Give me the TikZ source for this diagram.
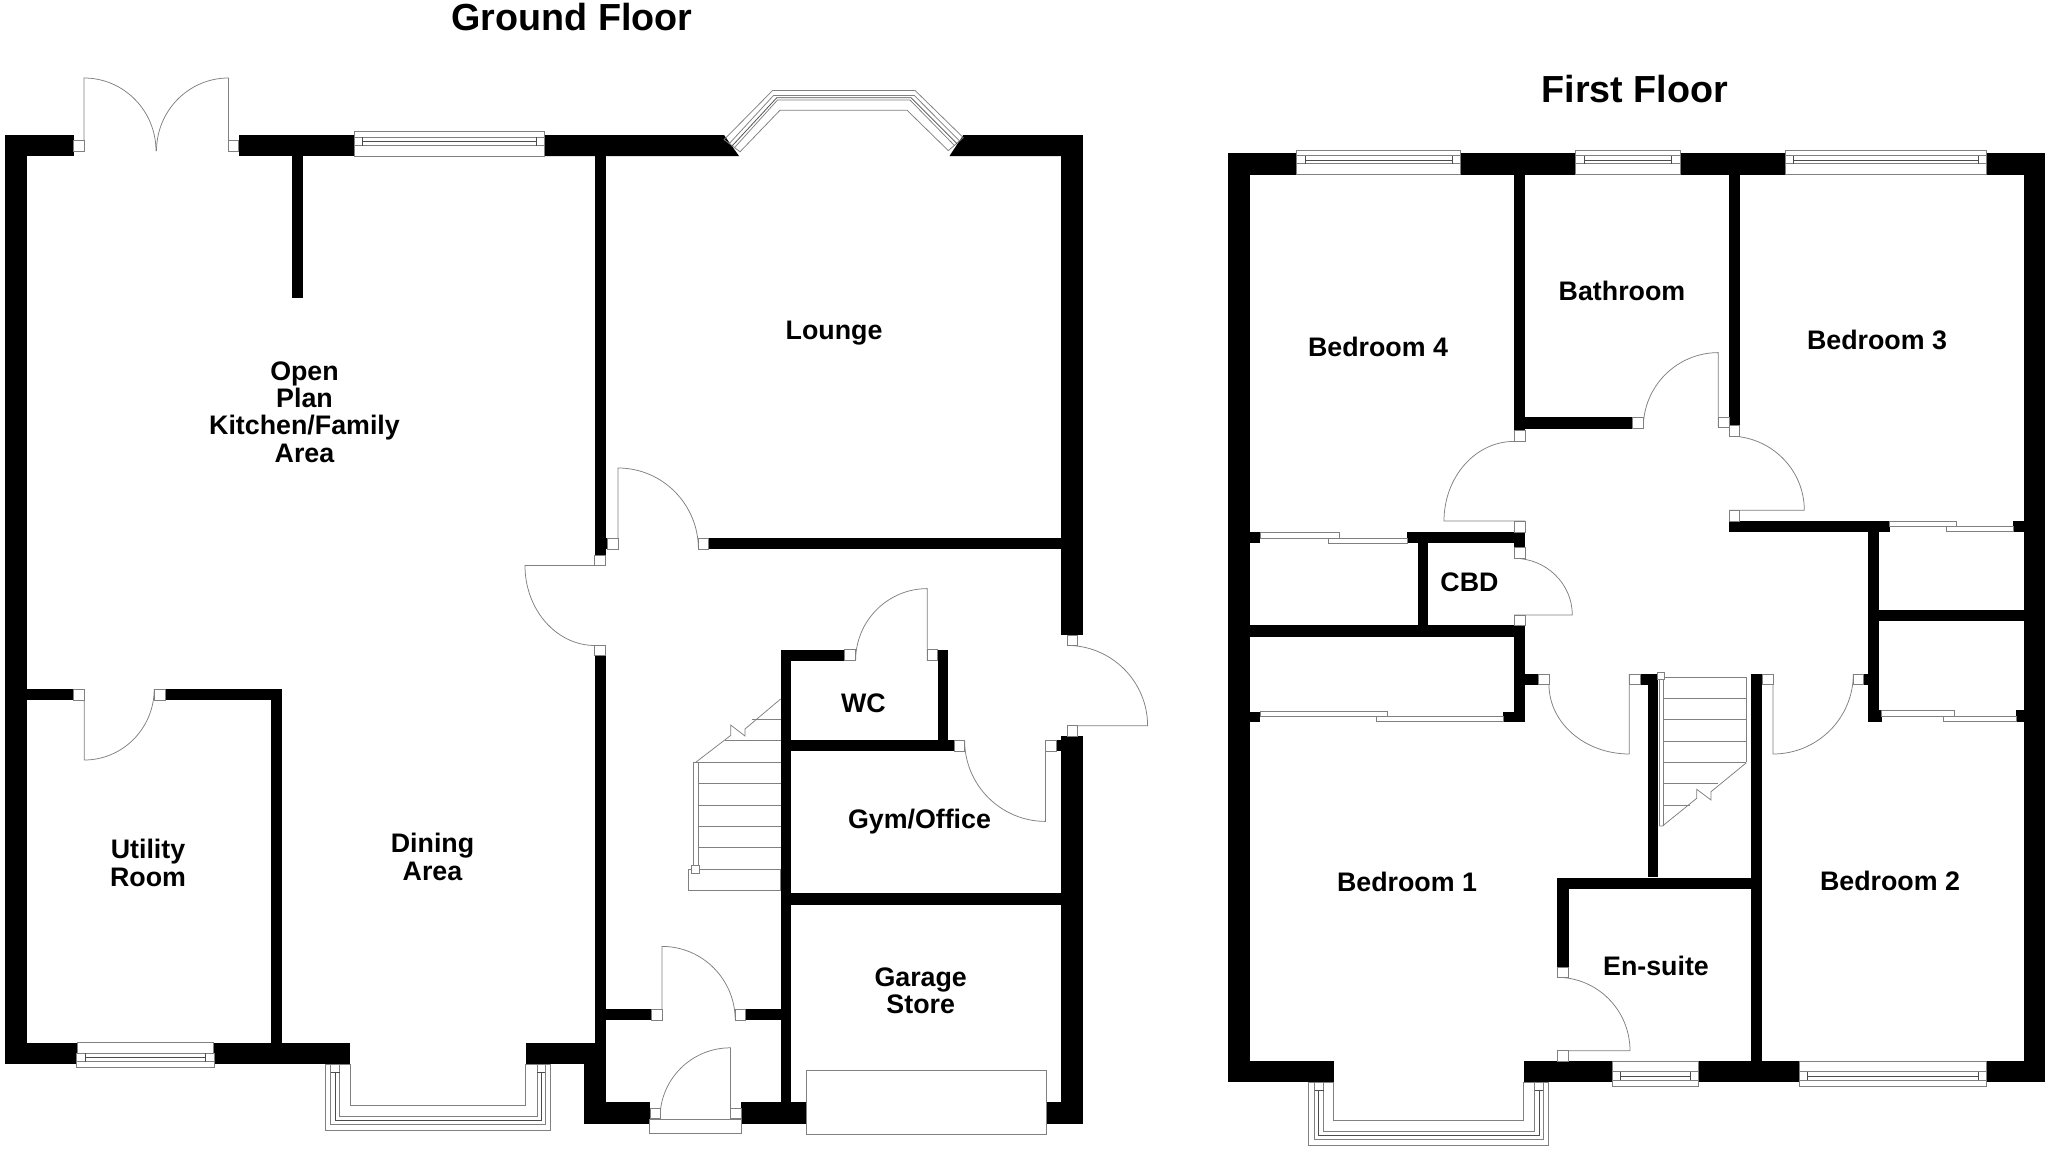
\documentclass[tikz,border=0pt]{standalone}
\usepackage{fontspec}
\setmainfont{Liberation Sans}
\begin{document}
\begin{tikzpicture}[x=1pt,y=-1pt,line join=miter]
\tikzstyle{muro}=[fill=black]
\tikzstyle{linea}=[draw=black!50,line width=0.75pt]
\tikzstyle{vidrio}=[draw=black!70,line width=0.75pt]
\tikzstyle{jamba}=[draw=black!50,line width=0.75pt,fill=white]
\tikzstyle{cuarto}=[align=center,inner sep=0pt,font=\bfseries\fontsize{26.8}{27.3}\selectfont]
\tikzstyle{titulo}=[inner sep=0pt,font=\bfseries\fontsize{37.7}{40}\selectfont]
\useasboundingbox (0,0) rectangle (2048,1151);
\fill[white] (0,0) rectangle (2048,1151);
%% Ground floor walls
\foreach \xa/\ya/\xb/\yb in {5/135/26.5/1064,5/135/73.5/156,238.5/135/354/156,292/156/302.5/298,
  1061.4/135/1082.7/634.7,594.8/156/605.5/555,605.5/538.4/607.5/549,708.7/538.4/1061.4/549,
  594.8/655.6/605.5/1043,26.5/689.3/73.5/700.3,165/689.3/281.5/700.3,271/689.3/281.5/1043,
  5/1042.7/77/1064,213.5/1042.7/350/1064,525.5/1042.7/605.5/1064,584/1064/605.5/1124,
  584/1102.4/650/1124,741/1102.4/806.3/1124,1046.4/1102.4/1082.7/1124,1061.4/736/1082.7/1124,
  780.6/649.8/791.3/1102.4,780.6/649.8/844.7/660.7,937.6/649.8/948.3/740.3,780.6/740.3/954.2/751.2,
  1055.9/740.3/1061.4/751.2,791/893.2/1061.4/904.7,605.5/1009/651.7/1020,745.4/1009/780.6/1020}
  \fill[muro] (\xa,\ya) rectangle (\xb,\yb);
\fill[muro] (544,135)--(724,135)--(739,156)--(544,156)--cycle;
\fill[muro] (963.3,135)--(1082.7,135)--(1082.7,156)--(949.5,156)--cycle;
%% Ground floor doors
\draw[linea] (84,151)--(84,78) arc[start angle=90,end angle=0,x radius=72pt,y radius=73pt];
\draw[linea] (228.5,151)--(228.5,78) arc[start angle=90,end angle=180,x radius=72pt,y radius=73pt];
\draw[linea] (618,549)--(618,468) arc[start angle=90,end angle=0,x radius=80.4pt,y radius=81pt];
\draw[linea] (605.5,565.5)--(525,565.5) arc[start angle=180,end angle=270,x radius=70pt,y radius=80pt];
\draw[linea] (84.2,700)--(84.2,760) arc[start angle=270,end angle=360,x radius=70pt,y radius=71pt];
\draw[linea] (927.3,660.7)--(927.3,588.6) arc[start angle=90,end angle=180,x radius=71.7pt,y radius=72pt];
\draw[linea] (1045.6,751)--(1045.6,821.4) arc[start angle=270,end angle=180,x radius=81pt,y radius=81pt];
\draw[linea] (1067,725.8)--(1147.6,725.8) arc[start angle=0,end angle=90,x radius=80.6pt,y radius=80.4pt];
\draw[linea] (662,1020)--(662,946.4) arc[start angle=90,end angle=0,x radius=73.2pt,y radius=73.6pt];
\draw[linea] (730.4,1118)--(730.4,1047.8) arc[start angle=90,end angle=180,x radius=70.4pt,y radius=70.2pt];
\foreach \xa/\ya/\xb/\yb in {73.5/140/84/151,228/140/238.5/151,594.8/555/605.5/565.5,594.8/645.4/605.5/655.6,
  607.5/538.4/618/549,698.4/538.4/708.7/549,73.5/689.3/84.2/700.3,154/689.3/165/700.3,
  844.7/649.8/855.4/660.7,927.3/649.8/937.6/660.7,954.2/740.3/964.5/751.2,1045.6/740.3/1055.9/751.2,
  1067/635.2/1077.2/645.4,1067/725.8/1077.2/736,651.7/1009/662/1020,735.2/1009/745.4/1020,
  650/1108/660/1118,730.8/1108/741/1118,649.4/1119/741.5/1133,806.3/1070.8/1046.4/1134.6}
  \draw[jamba] (\xa,\ya) rectangle (\xb,\yb);
%% Ground floor stairs
\foreach \ya in {762.4,783.7,805,826.4,847.8,869.2}
  \draw[linea] (698,\ya)--(780.6,\ya);
\draw[linea] (688.5,869.2) rectangle (780.6,890.5);
\draw[linea] (692.9,762.4)--(692.9,865.8) (698,762.4)--(698,865.8) (692.9,762.4)--(698,762.4);
\draw[jamba] (691.3,865.8) rectangle (699.2,872.9);
\draw[linea] (695.6,762.4)--(730.8,735.3)--(730.8,725.1)--(745,736)--(745,729)--(780.6,699);
\draw[linea] (725.3,740.3)--(780.6,740.3) (751.8,719.7)--(780.6,719.7);
%% Ground floor windows
\draw[jamba] (354,131.7) rectangle (544,156);
\draw[linea] (354,137)--(544,137) (354,145.7)--(544,145.7);
\draw[vidrio] (362.6,137)--(362.6,145.7) (536,137)--(536,145.7) (362.6,141.7)--(536,141.7);
\draw[jamba] (77,1042.7) rectangle (213.5,1053.3);
\draw[jamba] (76.3,1053.3) rectangle (214.3,1067.3);
\draw[linea] (76.3,1061.7)--(214.3,1061.7);
\draw[vidrio] (85.4,1053.3)--(85.4,1061.7) (205.6,1053.3)--(205.6,1061.7) (85.4,1057.3)--(205.6,1057.3);
%% Ground floor bays
\draw[linea] (325.4,1064)--(325.4,1130.7)--(550,1130.7)--(550,1064)--(525.5,1064)--(525.5,1105.7)--(350,1105.7)--(350,1064)--cycle;
\draw[linea] (330.6,1064)--(330.6,1124.7)--(545.3,1124.7)--(545.3,1064);
\draw[linea] (339.7,1064)--(339.7,1116.7)--(537,1116.7)--(537,1064);
\draw[vidrio] (335.3,1072.7)--(335.3,1120.7)--(541.7,1120.7)--(541.7,1072.7) (330.6,1072.7)--(339.7,1072.7) (537,1072.7)--(545.3,1072.7);
\draw[linea] (724.1,139.6)--(772.7,90.4)--(915,90.4)--(963.3,137.6)--(948.3,150.6)--(907,110.2)--(780,110.2)--(740,151.8)--cycle;
\draw[linea] (729.2,143.7)--(773.5,95.5)--(914.3,95.5)--(959.4,140.8);
\draw[vidrio] (731.6,146.5)--(776.7,97.8)--(911.1,97.8)--(957,143.7);
\draw[linea] (734,148.2)--(777.5,100)--(910,100)--(954.6,145.7);
%% First floor walls
\foreach \xa/\ya/\xb/\yb in {1228.3/153.2/1250/1082.3,1228.3/153.2/1296.7/174.8,1460.7/153.2/1575.7/174.8,
  1680/153.2/1785/174.8,1986.3/153.2/2045.3/174.8,2023.7/153.2/2045.3/1082.3,1514/174.8/1525/430.2,
  1525/417.3/1633/428.5,1729/174.8/1739.7/425.2,1729/521/1889.7/531.7,2013/521/2023.7/531.7,
  1868.3/531.7/1879/721.6,1879/610/2023.7/621.3,1868.3/710.4/1881.7/721.6,2016/710.4/2023.7/721.6,
  1863.7/674/1868.3/684.7,1751.3/674/1762.3/1061,1647.7/674/1658.3/877.3,1640/674/1647.7/684.7,
  1525/674/1538.3/684.7,1514/625.4/1525/721.6,1503.3/711.7/1525/721.6,1250/711.7/1260/721.6,
  1250/625.4/1525/636.6,1418/543.3/1428.3/625.4,1407.3/532.2/1525/543.3,1514/532.2/1525/547.5,
  1250/532.2/1260/543.3,1557/878/1751.3/888.7,1557/878/1568.5/967.3,1228/1061/1333.5/1082.3,
  1523.6/1061/1612.3/1082.3,1698.4/1061/1799.2/1082.3,1986/1061/2045.3/1082.3}
  \fill[muro] (\xa,\ya) rectangle (\xb,\yb);
%% First floor doors
\draw[linea] (1718.3,427.7)--(1718.3,352.6) arc[start angle=90,end angle=180,x radius=75pt,y radius=75pt];
\draw[linea] (1729,510.2)--(1804.3,510.2) arc[start angle=0,end angle=90,x radius=75.3pt,y radius=74.2pt];
\draw[linea] (1773,674)--(1773,754) arc[start angle=270,end angle=360,x radius=80.3pt,y radius=80pt];
\draw[linea] (1629.3,674)--(1629.3,754) arc[start angle=270,end angle=180,x radius=80.3pt,y radius=69.3pt];
\draw[linea] (1525,521)--(1444,521) arc[start angle=180,end angle=90,x radius=70pt,y radius=79.6pt];
\draw[linea] (1514,615)--(1572.3,615) arc[start angle=0,end angle=90,x radius=58.3pt,y radius=56.7pt];
\draw[linea] (1557,1050.7)--(1630,1050.7) arc[start angle=0,end angle=90,x radius=73pt,y radius=73.4pt];
\foreach \xa/\ya/\xb/\yb in {1514/430.2/1525/441.4,1632.7/417.3/1643.3/428.5,1718.3/417.3/1729/427.7,
  1729/425.2/1739.7/436,1729/510.2/1739.7/521,1853.3/674/1863.7/684.7,1762.3/674/1773/684.7,
  1629.3/674/1640/684.7,1538.3/674/1549/684.7,1514/521/1525/532.2,1514/547.5/1525/558.3,1514/615/1525/625.4,
  1557/967.3/1568.5/977.3,1557/1050.7/1568.5/1061,
  1889.7/521/1956.7/526.8,1946/526.8/2013/531.7,1881.7/710.4/1954.3/716.2,1943.3/716.2/2016/721.6,
  1260/711.7/1387.3/716.7,1376.7/716.7/1503.3/721.6,1260/532.2/1339.3/538,1328.3/538/1407.3/543.3}
  \draw[jamba] (\xa,\ya) rectangle (\xb,\yb);
%% First floor stairs
\foreach \ya in {677.3,698.3,719.7,741,762.3}
  \draw[linea] (1663.5,\ya)--(1746.4,\ya);
\draw[linea] (1663.5,783.7)--(1718,783.7) (1663.5,805)--(1690,805);
\draw[linea] (1746.4,677.3)--(1746.4,762.3) (1663.5,677.3)--(1663.5,826) (1659.3,677.3)--(1659.3,826);
\draw[linea] (1746.4,762.7)--(1711,791.7)--(1711,800)--(1696.7,789.3)--(1696.7,798.3)--(1662.5,826)--(1659.3,826);
\draw[jamba] (1657.7,672.7) rectangle (1664.6,679.3);
%% First floor windows
\foreach \xa/\xb/\xc/\xd in {1296.7/1305/1452.3/1460.7,1575.7/1584/1671.7/1680,1785/1793.3/1978.3/1986.3} {
  \draw[jamba] (\xa,150) rectangle (\xd,174.8);
  \draw[linea] (\xa,155.7)--(\xd,155.7) (\xa,163.6)--(\xd,163.6);
  \draw[vidrio] (\xb,155.7)--(\xb,163.6) (\xc,155.7)--(\xc,163.6) (\xb,159.9)--(\xc,159.9);
}
\foreach \xa/\xb/\xc/\xd in {1612.3/1620.2/1690.4/1698.4,1799.2/1807.7/1978.2/1986.1} {
  \draw[jamba] (\xa,1061) rectangle (\xd,1086);
  \draw[linea] (\xa,1071.7)--(\xd,1071.7) (\xa,1080)--(\xd,1080);
  \draw[vidrio] (\xb,1071.7)--(\xb,1080) (\xc,1071.7)--(\xc,1080) (\xb,1076)--(\xc,1076);
}
\draw[linea] (1308.7,1082.3)--(1308.7,1145.3)--(1548.4,1145.3)--(1548.4,1082.3)--(1523.6,1082.3)--(1523.6,1120.7)--(1333.5,1120.7)--(1333.5,1082.3)--cycle;
\draw[linea] (1314.5,1082.3)--(1314.5,1139.3)--(1543,1139.3)--(1543,1082.3);
\draw[linea] (1323.5,1082.3)--(1323.5,1131)--(1534.7,1131)--(1534.7,1082.3);
\draw[vidrio] (1318.7,1090)--(1318.7,1135)--(1539,1135)--(1539,1090) (1314.5,1090)--(1323.5,1090) (1534.7,1090)--(1543,1090);
%% Labels
\node at (572,17) (ground)[titulo] {Ground Floor};
\node at (1635,89) (first)[titulo] {First Floor};
\node at (834,333.5) (lounge)[cuarto] {Lounge};
\node at (304.5,412) (kitchen)[cuarto] {Open\\Plan\\Kitchen/Family\\Area};
\node at (148,863) (utility)[cuarto] {Utility\\Room};
\node at (432.5,857) (dining)[cuarto] {Dining\\Area};
\node at (863.5,703) (wc)[cuarto] {WC};
\node at (919.5,822) (gym)[cuarto] {Gym/Office};
\node at (920.7,991) (garage)[cuarto] {Garage\\Store};
\node at (1378,346.5) (bed4)[cuarto] {Bedroom 4};
\node at (1622,291) (bath)[cuarto] {Bathroom};
\node at (1877,340) (bed3)[cuarto] {Bedroom 3};
\node at (1469.5,582) (cbd)[cuarto] {CBD};
\node at (1407,881.5) (bed1)[cuarto] {Bedroom 1};
\node at (1890,881) (bed2)[cuarto] {Bedroom 2};
\node at (1656,966) (ensuite)[cuarto] {En-suite};
\end{tikzpicture}
\end{document}
